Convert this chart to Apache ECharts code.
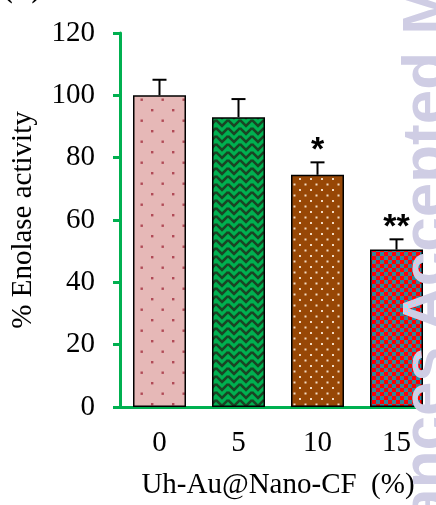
<!DOCTYPE html>
<html><head><meta charset="utf-8">
<script src="https://cdn.jsdelivr.net/npm/echarts@6/dist/echarts.min.js"></script>
<style>html,body{margin:0;padding:0;background:#fff}#c{width:436px;height:505px}</style>
</head><body><div id="c"></div>
<script>
const categories = ['0', '5', '10', '15'];
const values = [100, 93, 74.5, 50.5];
const errors = [5, 5.8, 4, 3.3];
const stars = ['', '', '*', '**'];
const yTicks = [0, 20, 40, 60, 80, 100, 120];

function tile(w, h, draw) {
  const c = document.createElement('canvas'); c.width = w; c.height = h;
  draw(c.getContext('2d')); return c;
}
const patterns = [
  tile(21, 21, g => { g.fillStyle = '#e6b8b7'; g.fillRect(0,0,21,21);
    g.fillStyle = '#b04a56'; g.fillRect(4,4,2.4,2.4); g.fillRect(14.5,14.5,2.4,2.4); }),
  tile(12, 8, g => { g.fillStyle = '#00b050'; g.fillRect(0,0,12,8);
    g.strokeStyle = '#1a4424'; g.lineWidth = 2.6;
    g.beginPath(); g.moveTo(0,0); g.lineTo(6,6); g.lineTo(12,0);
    g.moveTo(0,8); g.lineTo(6,14); g.lineTo(12,8);
    g.moveTo(0,-8); g.lineTo(6,-2); g.lineTo(12,-8); g.stroke(); }),
  tile(11, 11, g => { g.fillStyle = '#974706'; g.fillRect(0,0,11,11);
    g.fillStyle = '#f3dcc4'; g.fillRect(2,2,2,2); g.fillRect(7.5,7.5,2,2); }),
  tile(8, 8, g => { g.fillStyle = '#ff0000'; g.fillRect(0,0,8,8);
    g.fillStyle = '#31859c'; g.fillRect(0,0,4,4); g.fillRect(4,4,4,4); })
];

const chart = echarts.init(document.getElementById('c'));
const serif = 'Liberation Serif';
const wm = { font: 'bold 62px Liberation Sans', fill: '#cfcde4', verticalAlign: 'top', textVerticalAlign: 'top' };
chart.setOption({
  animation: false,
  grid: { left: 120, right: -4, top: 33, bottom: 94 },
  xAxis: {
    type: 'category', data: categories,
    axisLine: { lineStyle: { color: '#00b050', width: 3 } },
    axisTick: { show: false },
    axisLabel: { color: '#000', fontFamily: serif, fontSize: 29, margin: 22 },
    name: 'Uh-Au@Nano-CF  (%)', nameLocation: 'middle', nameGap: 64,
    nameTextStyle: { color: '#000', fontFamily: serif, fontSize: 29 }
  },
  yAxis: {
    type: 'value', min: 0, max: 120, interval: 20,
    axisLine: { show: true, lineStyle: { color: '#00b050', width: 3 } },
    axisTick: { show: true, length: 7, lineStyle: { color: '#00b050', width: 3 } },
    splitLine: { show: false },
    axisLabel: { color: '#000', fontFamily: serif, fontSize: 29, margin: 25,
      formatter: v => yTicks.includes(v) ? String(v) : '' },
    name: '% Enolase activity', nameLocation: 'middle', nameGap: 82,
    nameTextStyle: { color: '#000', fontFamily: serif, fontSize: 29 }
  },
  series: [
    { type: 'bar', barWidth: 53,
      data: values.map((v, i) => ({ value: v,
        itemStyle: { color: { image: patterns[i], repeat: 'repeat' }, borderColor: '#000', borderWidth: 1.5 } })) },
    { type: 'custom', z: 5,
      data: values.map((v, i) => [i, v, errors[i]]),
      renderItem: (params, api) => {
        const i = api.value(0);
        const b = api.coord([i, api.value(1)]);
        const t = api.coord([i, api.value(1) + api.value(2)]);
        const ch = [
          { type: 'line', shape: { x1: b[0], y1: b[1], x2: t[0], y2: t[1] }, style: { stroke: '#000', lineWidth: 2 } },
          { type: 'line', shape: { x1: t[0] - 7, y1: t[1], x2: t[0] + 7, y2: t[1] }, style: { stroke: '#000', lineWidth: 2 } }
        ];
        if (stars[i]) ch.push({ type: 'text', x: t[0], y: t[1] + 5,
          style: { text: stars[i], font: 'bold 34px Liberation Sans', fill: '#000', align: 'center', textAlign: 'center', verticalAlign: 'bottom', textVerticalAlign: 'bottom' } });
        return { type: 'group', children: ch };
      } }
  ],
  graphic: [
    { type: 'text', left: 4, top: -22, style: { text: '(A)', font: 'bold 26px Liberation Serif', fill: '#000' } },
    { type: 'text', x: 397, y: 331, rotation: Math.PI / 2, z: 100,
      style: Object.assign({ text: 'Accepted Manuscript', align: 'left', textAlign: 'left' }, wm) },
    { type: 'text', x: 397, y: 347, rotation: Math.PI / 2, z: 100,
      style: Object.assign({ text: 'RSC Advances', align: 'right', textAlign: 'right' }, wm) }
  ]
});
</script></body></html>
